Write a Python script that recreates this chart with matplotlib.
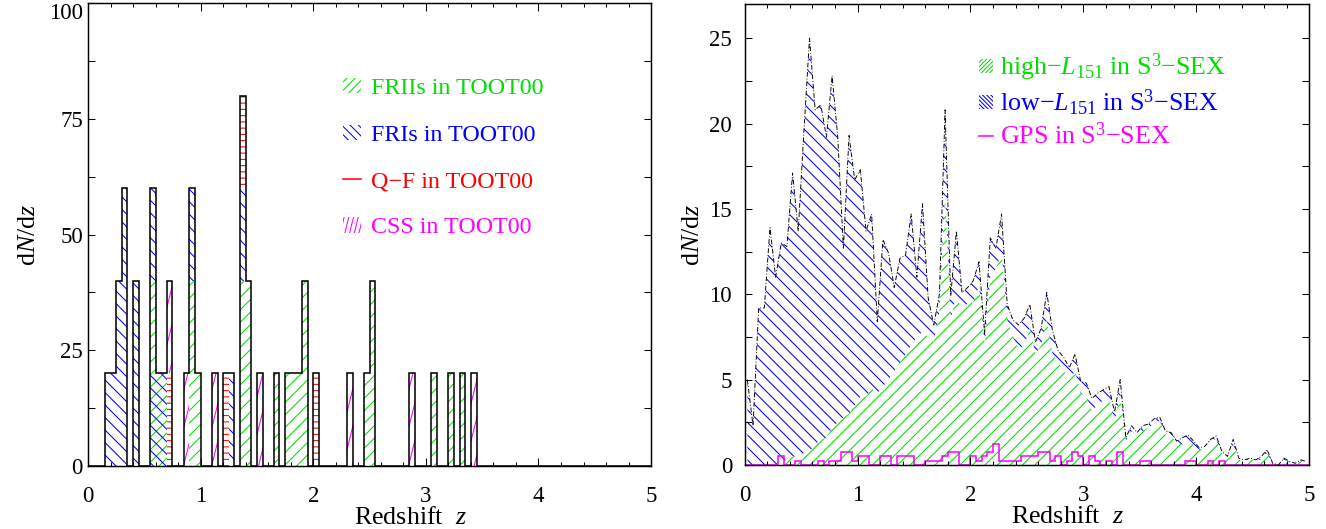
import matplotlib
matplotlib.use('Agg')
import matplotlib.pyplot as plt
import matplotlib.hatch as mhatch
import numpy as np
from matplotlib.patches import Patch
from matplotlib.lines import Line2D
from matplotlib.path import Path
from matplotlib.ticker import MultipleLocator

plt.rcParams['font.family'] = 'Liberation Serif'
plt.rcParams['mathtext.fontset'] = 'custom'
plt.rcParams['mathtext.rm'] = 'Liberation Serif'
plt.rcParams['mathtext.it'] = 'Liberation Serif:italic'
plt.rcParams['hatch.linewidth'] = 1.0

GREEN = '#00e000'
BLUE = '#0000ff'
RED = '#ff0000'
MAGENTA = '#ff00ff'

# ---- left panel: TOOT00 sources, counts per 0.05 bin (bin start z) ----
mixed_z = [0.55, 0.60, 0.65]          # FRI/FRII hatches overlap here
mixed_n = [1, 1, 1]
frii_z = [0.55, 0.90, 0.95, 1.35, 1.40, 1.65, 1.75, 1.80, 1.85, 1.90,
          2.45, 2.50, 3.05, 3.20, 3.30]
frii_n = [1, 2, 1, 2, 2, 1, 1, 1, 1, 2, 1, 2, 1, 1, 1]
fri_z = [0.15, 0.20, 0.25, 0.30, 0.40, 0.55, 0.90, 1.25, 1.35]
fri_n = [1, 1, 2, 3, 2, 1, 1, 1, 1]
qf_z = [0.70, 1.20, 1.35, 2.00]
qf_n = [1, 1, 1, 1]
css_z = [0.70, 0.85, 1.10, 1.50, 2.30, 2.85, 3.40]
css_n = [1, 1, 1, 1, 1, 1, 1]

# ---- right panel: S3-SEX dN/dz at bin centres (0.025, 0.075, ...) ----
total = [5.0, 2.3, 9.2, 9.2, 13.9, 11.0, 13.0, 12.8, 17.1, 13.7,
         19.5, 25.0, 20.8, 21.1, 19.2, 22.8, 19.2, 12.7, 19.3, 16.7,
         17.3, 13.7, 14.7, 8.4, 13.2, 12.4, 10.4, 12.1, 12.3, 14.7,
         11.0, 15.3, 9.8, 8.2, 10.0, 20.8, 9.9, 13.7, 10.1, 10.4,
         10.8, 11.9, 7.7, 13.3, 12.7, 14.7, 9.4, 8.5, 8.2, 8.6,
         9.4, 7.2, 8.0, 10.1, 7.9, 6.7, 6.3, 5.7, 6.5, 4.9,
         4.8, 3.9, 4.2, 4.4, 4.6, 3.1, 5.0, 1.6, 2.3, 1.9,
         2.3, 2.4, 2.7, 2.8, 2.0, 1.9, 1.4, 1.6, 1.75, 1.4,
         1.0, 1.1, 1.5, 1.7, 0.8, 0.5, 1.5, 0.4, 0.3, 0.4,
         0.3, 0.5, 0.9, 0.1, 0.0, 0.4, 0.2, 0.1, 0.3, 0.2]
high_l = [0.0, 0.0, 0.0, 0.0, 0.0, 0.0, 0.2, 0.3, 0.5, 0.5,
          0.7, 0.8, 1.2, 1.5, 1.6, 2.2, 2.5, 2.8, 3.0, 3.5,
          4.0, 4.0, 4.5, 4.2, 4.6, 5.0, 5.5, 6.0, 6.5, 7.0,
          7.5, 7.8, 7.5, 7.2, 9.0, 16.0, 8.5, 10.0, 9.0, 9.5,
          9.5, 10.5, 7.0, 11.0, 11.5, 12.5, 8.5, 7.5, 6.8, 7.0,
          8.0, 6.5, 7.0, 8.5, 6.5, 6.0, 5.5, 5.0, 5.5, 4.2,
          4.0, 3.2, 3.5, 3.8, 4.0, 2.5, 4.2, 1.4, 2.0, 1.7,
          2.0, 2.2, 2.4, 2.6, 1.8, 1.7, 1.3, 1.2, 1.5, 1.2,
          0.9, 1.0, 1.5, 1.5, 0.7, 0.5, 1.2, 0.3, 0.3, 0.3,
          0.3, 0.3, 0.7, 0.1, 0.0, 0.3, 0.2, 0.1, 0.3, 0.0]
gps = [0, 0, 0, 0, 0, 0, 0.5, 0, 0, 0.25,
       0, 0, 0, 0.25, 0, 0.25, 0.25, 0.75, 0.75, 0.25,
       0.5, 0.5, 0, 0, 0.5, 0.5, 0, 0.5, 0.5, 0.5,
       0, 0, 0.25, 0.25, 0.25, 0.5, 0.75, 0.75, 0, 0,
       0.5, 0.25, 0.5, 0.75, 1.25, 0.25, 0.25, 0.25, 0.25, 0.5,
       0.5, 0.5, 0.75, 0.75, 0.25, 0.5, 0, 0.25, 0.75, 0.5,
       0, 0.5, 0.25, 0, 0.25, 0, 0.75, 0, 0, 0,
       0.25, 0.25, 0, 0, 0, 0, 0, 0, 0.25, 0.25,
       0, 0, 0.25, 0, 0.25, 0, 0, 0, 0, 0,
       0, 0, 0, 0, 0, 0, 0, 0, 0, 0]


# steep line hatch (IDL style) used in place of '|'
class SteepHatch(mhatch.HatchPatternBase):
    def __init__(self, hatch, density):
        self.n = hatch.count('|')
        self.num_lines = 10 * self.n
        self.num_vertices = 2 * self.num_lines

    def set_vertices_and_codes(self, vertices, codes):
        c = np.arange(-2 * self.n, 8 * self.n) / (8 * self.n)
        vertices[0::2, 0] = c
        vertices[0::2, 1] = 0.0
        vertices[1::2, 0] = c + 0.25
        vertices[1::2, 1] = 1.0
        codes[0::2] = Path.MOVETO
        codes[1::2] = Path.LINETO


mhatch._hatch_types = [SteepHatch if t is mhatch.VerticalHatch else t
                       for t in mhatch._hatch_types]

dz = 0.05
edges = np.arange(101) * dz
zc = edges[:-1] + dz / 2


def binned(zs, ns):
    a = np.zeros(100)
    for z, n in zip(zs, ns):
        a[int(round(z / dz))] += n
    return a / dz


def style_axes(ax, ymaj, ymin, ypad, ylabx):
    ax.set_xlim(0, 5)
    ax.xaxis.set_major_locator(MultipleLocator(1))
    ax.xaxis.set_minor_locator(MultipleLocator(0.2))
    ax.yaxis.set_major_locator(MultipleLocator(ymaj))
    ax.yaxis.set_minor_locator(MultipleLocator(ymin))
    ax.tick_params(which='both', direction='in', top=True, right=True,
                   width=1.0, labelsize=22)
    ax.tick_params(axis='x', which='major', length=8, pad=19)
    ax.tick_params(axis='x', which='minor', length=4)
    ax.tick_params(axis='y', which='both', length=7, pad=ypad)
    for s in ax.spines.values():
        s.set_linewidth(1.4)
    ax.set_xlabel('Redshift  $z$', fontsize=25)
    ax.set_ylabel('d$N$/d$z$', fontsize=25)
    ax.xaxis.set_label_coords(0.572, -0.089)
    ax.yaxis.set_label_coords(ylabx, 0.5)


fig = plt.figure(figsize=(1326 / 75, 529 / 75), dpi=75)
ax1 = fig.add_axes([0.0664, 0.1191, 0.4246, 0.8747])
ax2 = fig.add_axes([0.5615, 0.1210, 0.4260, 0.8714])

# left: stacked hatched histogram
layers = [
    (binned(mixed_z, mixed_n), [(GREEN, '//'), (BLUE, '\\\\')]),
    (binned(frii_z, frii_n), [(GREEN, '//')]),
    (binned(fri_z, fri_n), [(BLUE, '\\\\')]),
    (binned(qf_z, qf_n), [(RED, '--')]),
    (binned(css_z, css_n), [(MAGENTA, '|')]),
]
bottom = np.zeros(100)
for vals, fills in layers:
    for col, h in fills:
        ax1.bar(edges[:-1], vals, width=dz, bottom=bottom, align='edge',
                fill=False, edgecolor=col, hatch=h, linewidth=0)
    bottom = bottom + vals
ax1.stairs(bottom, edges, color='black', linewidth=1.5)
ax1.set_ylim(0, 100)
style_axes(ax1, 25, 12.5, 5, -0.085)

h1 = [Patch(facecolor='none', edgecolor=GREEN, hatch='///', linewidth=0),
      Patch(facecolor='none', edgecolor=BLUE, hatch='\\\\\\', linewidth=0),
      Line2D([], [], color=RED, linewidth=1.5),
      Patch(facecolor='none', edgecolor=MAGENTA, hatch='||', linewidth=0)]
l1 = ['FRIIs in TOOT00', 'FRIs in TOOT00', 'Q−F in TOOT00', 'CSS in TOOT00']
leg1 = ax1.legend(h1, l1, loc='upper left', bbox_to_anchor=(0.415, 0.885),
                  frameon=False, fontsize=23, handlelength=0.75,
                  handleheight=0.6, handletextpad=0.4, labelspacing=1.06)
for t, c in zip(leg1.get_texts(), [GREEN, BLUE, RED, MAGENTA]):
    t.set_color(c)

# right: high-L and low-L stacked, total line, GPS histogram
high = np.array(high_l)
tot = np.array(total)
ax2.fill_between(zc, 0, high, facecolor='none', edgecolor=GREEN,
                 hatch='//', linewidth=0)
ax2.fill_between(zc, high, tot, facecolor='none', edgecolor=BLUE,
                 hatch='\\\\', linewidth=0)
ax2.stairs(gps, edges, color=MAGENTA, linewidth=1.5)
ax2.plot(zc, tot, color='black', linewidth=0.9, dashes=(5, 2, 1, 2))
ax2.set_ylim(0, 27)
style_axes(ax2, 5, 2.5, 12, -0.072)

h2 = [Patch(facecolor='none', edgecolor=GREEN, hatch='//////', linewidth=0),
      Patch(facecolor='none', edgecolor=BLUE, hatch='\\\\\\\\\\\\', linewidth=0),
      Line2D([], [], color=MAGENTA, linewidth=1.5)]
l2 = ['high−$L_{151}$ in S$^3$−SEX', 'low−$L_{151}$ in S$^3$−SEX',
      'GPS in S$^3$−SEX']
leg2 = ax2.legend(h2, l2, loc='upper left', bbox_to_anchor=(0.373, 0.947),
                  frameon=False, fontsize=25, handlelength=0.55,
                  handleheight=0.5, handletextpad=0.25, labelspacing=0.17)
for t, c in zip(leg2.get_texts(), [GREEN, BLUE, MAGENTA]):
    t.set_color(c)

# keep the top label of the left panel inside the figure
fig.canvas.draw()
for tk in ax1.yaxis.get_major_ticks():
    if abs(tk.get_loc() - 100) < 1e-6:
        tk.label1.set_verticalalignment('top')

fig.savefig('out.png', dpi=75)
